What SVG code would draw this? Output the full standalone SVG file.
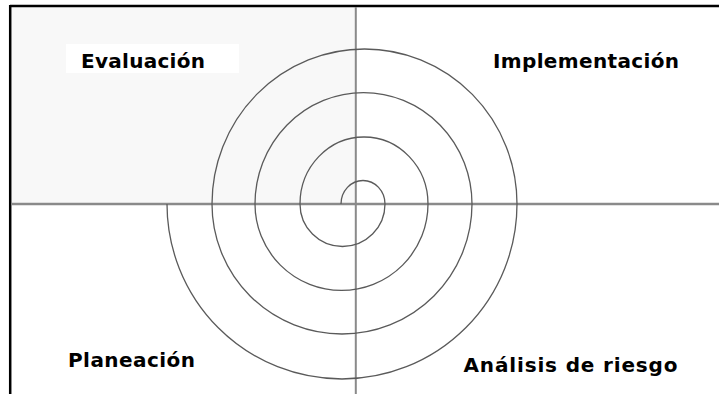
<svg xmlns="http://www.w3.org/2000/svg" width="719" height="394" viewBox="0 0 719 394">
  <style>
    .lbl { font-family: "DejaVu Sans", "Liberation Sans", sans-serif; font-weight: bold; font-size: 20px; fill: #000; }
    .axis { stroke: #8a8a8a; fill: none; }
    .spiral { stroke: #5a5a5a; stroke-width: 1.3; fill: none; }
  </style>
  <rect x="0" y="0" width="719" height="394" fill="#fff"/>
  <rect id="quadrant-shade" x="11" y="7" width="344.5" height="197" fill="#f8f8f8"/>
  <g id="frame">
    <line x1="10" y1="6" x2="719" y2="6" stroke="#000" stroke-width="2.5"/>
    <line x1="10.2" y1="5" x2="10.2" y2="394" stroke="#000" stroke-width="2.5"/>
  </g>
  <g id="connectors">
    <line class="axis" x1="12" y1="204" x2="719" y2="204" stroke-width="2.5"/>
    <line class="axis" x1="355.8" y1="7" x2="355.8" y2="394" stroke-width="2"/>
    <path id="spiral" class="spiral" d="M 341 204 A 22 23.5 0 0 1 385 204 A 42.5 42.5 0 0 1 300 204 A 64 67 0 0 1 428 204 A 86.5 86.5 0 0 1 255 204 A 108.5 111.5 0 0 1 472 204 A 130 130 0 0 1 212 204 A 152.5 155 0 0 1 517 204 A 175 175 0 0 1 167 204"/>
  </g>
  <g id="evaluacion">
    <rect x="66" y="44" width="173" height="29" fill="#fff"/>
    <text class="lbl" x="81" y="68" textLength="124" lengthAdjust="spacing">Evaluación</text>
  </g>
  <g id="implementacion">
    <text class="lbl" x="493" y="68" textLength="186" lengthAdjust="spacing">Implementación</text>
  </g>
  <g id="planeacion">
    <text class="lbl" x="68" y="367" textLength="127" lengthAdjust="spacing">Planeación</text>
  </g>
  <g id="analisis">
    <text class="lbl" x="463.5" y="372" textLength="214" lengthAdjust="spacing">Análisis de riesgo</text>
  </g>
</svg>
